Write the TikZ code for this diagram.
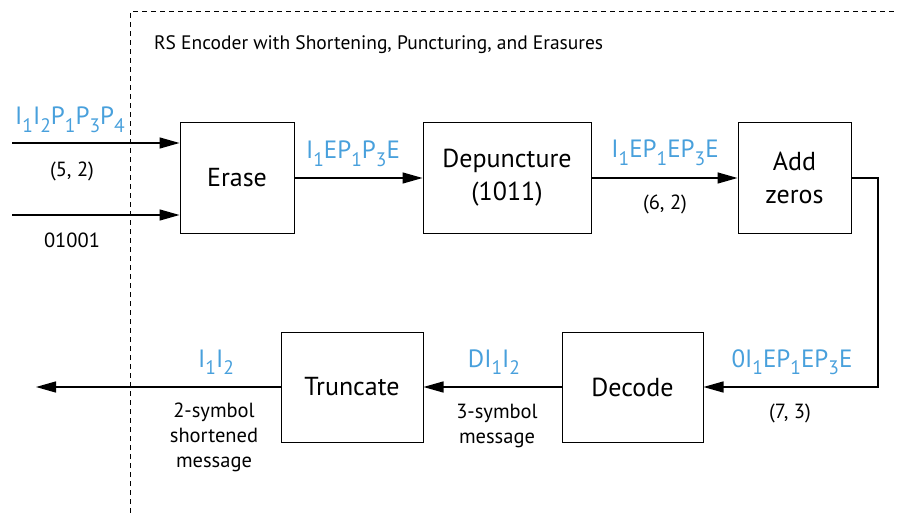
\documentclass[tikz,border=0pt]{standalone}
\usepackage{fontspec}
\setmainfont{PT Sans}
\usetikzlibrary{arrows.meta}
\definecolor{lblblue}{RGB}{72,160,220}
\newcommand{\dn}[1]{\raisebox{-0.3em}{\scalebox{0.78}{#1}}}
\tikzset{
  blk/.style={draw, line width=1pt, inner sep=0pt, minimum height=111pt, align=center,
    font=\fontsize{26}{33}\selectfont},
  sig/.style={text=lblblue, anchor=base, inner sep=0pt, font=\fontsize{25}{28}\selectfont},
  note/.style={align=center, font=\fontsize{20.5}{25}\selectfont},
}
\begin{document}
\begin{tikzpicture}[x=1pt, y=-1pt, line width=1.5pt, >={Triangle[length=20pt,width=11pt]}]
\useasboundingbox (0,0) rectangle (897,513);
\draw[line width=1pt, dash pattern=on 5pt off 4pt] (130,513) -- (130,12) -- (897,12);
\node[anchor=west, font=\fontsize{19.5}{24}\selectfont] at(150,45)(title){RS Encoder with Shortening, Puncturing, and Erasures};

% blocks
\node[blk, minimum width=114pt] at(237,178)(erase){Erase};
\node[blk, minimum width=168pt] at(507,178)(depunct){Depuncture\\(1011)};
\node[blk, minimum width=113pt] at(794.5,178)(addz){Add\\zeros};
\node[blk, minimum width=141pt, minimum height=110pt] at(632.5,387)(dec){Decode};
\node[blk, minimum width=142pt, minimum height=110pt] at(352,387)(trunc){Truncate};

\coordinate (in1) at(12,143);
\coordinate (in2) at(12,215);
\coordinate (rc) at(878,178);
\coordinate (out) at(36,387);

% signals
\node[sig] at(70,125)(s1){I\dn{1}I\dn{2}P\dn{1}P\dn{3}P\dn{4}};
\node[note] at(72,171)(n1){(5, 2)};
\node[note] at(72,240)(n2){01001};
\node[sig] at(353,159)(s2){I\dn{1}EP\dn{1}P\dn{3}E};
\node[sig] at(665,158)(s3){I\dn{1}EP\dn{1}EP\dn{3}E};
\node[note] at(665,204)(n3){(6, 2)};
\node[sig] at(792,367)(s4){0I\dn{1}EP\dn{1}EP\dn{3}E};
\node[note] at(790,413)(n4){(7, 3)};
\node[sig] at(494,367)(s5){DI\dn{1}I\dn{2}};
\node[note] at(497,426)(n5){3-symbol\\message};
\node[sig] at(216,367)(s6){I\dn{1}I\dn{2}};
\node[note] at(214,437)(n6){2-symbol\\shortened\\message};

\path[->]
    (in1) edge (in1 -| erase.west)
    (in2) edge (in2 -| erase.west)
    (erase) edge (depunct)
    (depunct) edge (addz)
    (dec) edge (trunc)
    (trunc) edge (out);
\draw[->] (addz.east) -- (rc) |- (dec.east);
\end{tikzpicture}
\end{document}
